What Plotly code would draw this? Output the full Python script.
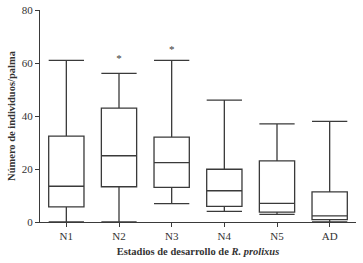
import plotly.graph_objects as go

categories = ["N1", "N2", "N3", "N4", "N5", "AD"]
lower = [0, 0, 6.9, 4.0, 2.9, 0]
q1 = [5.7, 13.3, 13.1, 5.9, 3.7, 0.9]
median = [13.5, 25, 22.4, 11.8, 7.0, 2.3]
q3 = [32.4, 43, 32, 19.9, 23.1, 11.4]
upper = [61, 56.1, 61, 46, 37, 38]
star_cats = ["N2", "N3"]
star_y = [61.5, 65]
yticks = [0, 20, 40, 60, 80]

line_col = "#3a3a3a"
font = "Liberation Serif"

fig = go.Figure()
fig.add_trace(go.Box(
    x=categories, q1=q1, median=median, q3=q3,
    lowerfence=lower, upperfence=upper,
    fillcolor="white", line=dict(color=line_col, width=1.3),
    whiskerwidth=1.0, width=0.67, boxpoints=False, showlegend=False,
))
fig.add_trace(go.Scatter(
    x=star_cats, y=star_y, mode="text", text=["*"] * len(star_cats),
    textfont=dict(family=font, size=11, color=line_col), showlegend=False,
))
fig.update_layout(
    width=363, height=263,
    margin=dict(l=40, r=7, t=10, b=41, autoexpand=False),
    paper_bgcolor="white", plot_bgcolor="white",
    font=dict(family=font, size=11, color="#333"),
)
fig.update_xaxes(
    range=[-0.5, 5.5], showline=True, linecolor=line_col, linewidth=1.2,
    ticks="outside", ticklen=4, tickcolor=line_col, showgrid=False,
    tickfont=dict(size=11), automargin=False,
    title=dict(text="<b>Estadios de desarrollo de </b><b><i>R. prolixus</i></b>",
               font=dict(size=10.5), standoff=6),
)
fig.update_yaxes(
    range=[0, 80], tickvals=yticks, showline=True, linecolor=line_col, linewidth=1.2,
    ticks="outside", ticklen=4, tickcolor=line_col, showgrid=False, zeroline=False,
    tickfont=dict(size=11), automargin=False,
    title=dict(text="<b>Número de individuos/palma</b>", font=dict(size=10.5), standoff=4),
)
fig.write_html("out.html", config={"displayModeBar": False},
               post_script="document.body.style.margin='0';document.body.style.overflow='hidden';")
